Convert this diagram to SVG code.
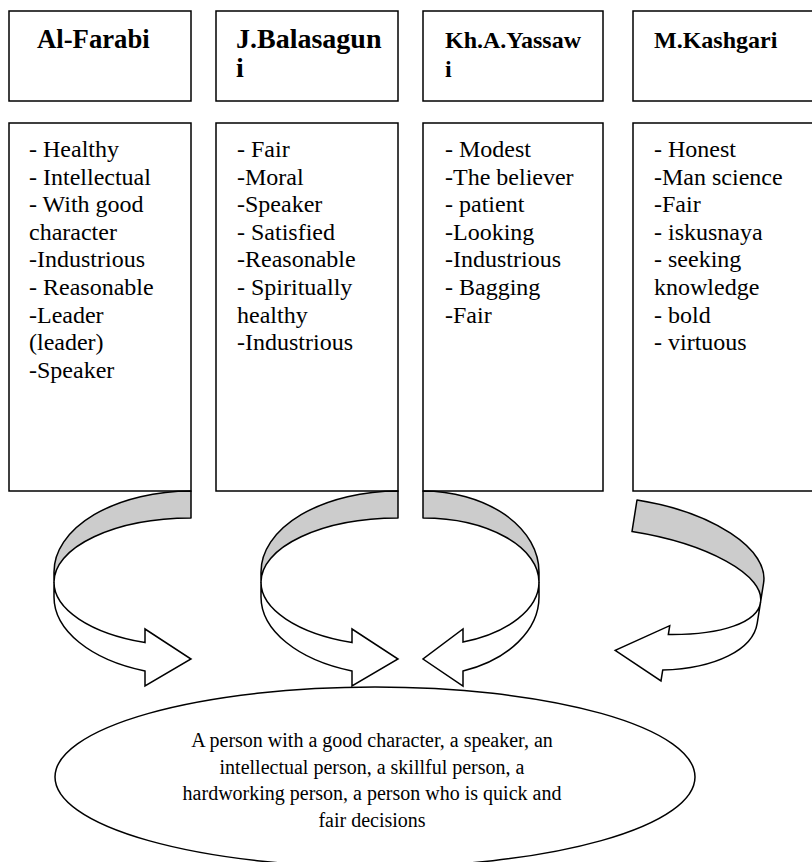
<svg xmlns="http://www.w3.org/2000/svg" width="812" height="862" viewBox="0 0 812 862">
<style>
.box{fill:#fff;stroke:#000;stroke-width:1.5}
.hd{font-family:"Liberation Serif","Times New Roman",serif;font-weight:bold;font-size:24px;fill:#000}
.hd2{font-size:26.7px}
.hd3{font-size:28px}
.ls{font-family:"Liberation Serif","Times New Roman",serif;font-size:24px;fill:#000}
.el{font-family:"Liberation Serif","Times New Roman",serif;font-size:20px;fill:#000;text-anchor:middle}
.back{fill:#cccccc;stroke:#000;stroke-width:1.5;stroke-linejoin:round}
.front{fill:#fff;stroke:#000;stroke-width:1.5;stroke-linejoin:miter}
</style>
<rect width="812" height="862" fill="#fff"/>

<g id="h1"><rect class="box" x="9" y="11" width="182" height="90"/><text class="hd hd2" x="37" y="48">Al-Farabi</text></g>
<g id="h2"><rect class="box" x="216" y="11" width="182" height="90"/><text class="hd hd3" x="236" y="48">J.Balasagun</text><text class="hd hd3" x="236" y="77">i</text></g>
<g id="h3"><rect class="box" x="423" y="11" width="180" height="90"/><text class="hd" x="445" y="48">Kh.A.Yassaw</text><text class="hd" x="445" y="77">i</text></g>
<g id="h4"><rect class="box" x="633" y="11" width="200" height="90"/><text class="hd" x="654" y="48">M.Kashgari</text></g>

<g id="l1"><rect class="box" x="9" y="123" width="182" height="368"/>
<text class="ls"><tspan x="29" y="157">- Healthy</tspan><tspan x="29" y="184.6">- Intellectual</tspan><tspan x="29" y="212.2">- With good</tspan><tspan x="29" y="239.8">character</tspan><tspan x="29" y="267.4">-Industrious</tspan><tspan x="29" y="295">- Reasonable</tspan><tspan x="29" y="322.6">-Leader</tspan><tspan x="29" y="350.2">(leader)</tspan><tspan x="29" y="377.8">-Speaker</tspan></text></g>
<g id="l2"><rect class="box" x="216" y="123" width="182" height="368"/>
<text class="ls"><tspan x="237" y="157">- Fair</tspan><tspan x="237" y="184.6">-Moral</tspan><tspan x="237" y="212.2">-Speaker</tspan><tspan x="237" y="239.8">- Satisfied</tspan><tspan x="237" y="267.4">-Reasonable</tspan><tspan x="237" y="295">- Spiritually</tspan><tspan x="237" y="322.6">healthy</tspan><tspan x="237" y="350.2">-Industrious</tspan></text></g>
<g id="l3"><rect class="box" x="423" y="123" width="180" height="368"/>
<text class="ls"><tspan x="445" y="157">- Modest</tspan><tspan x="445" y="184.6">-The believer</tspan><tspan x="445" y="212.2">- patient</tspan><tspan x="445" y="239.8">-Looking</tspan><tspan x="445" y="267.4">-Industrious</tspan><tspan x="445" y="295">- Bagging</tspan><tspan x="445" y="322.6">-Fair</tspan></text></g>
<g id="l4"><rect class="box" x="633" y="123" width="200" height="368"/>
<text class="ls"><tspan x="654" y="157">- Honest</tspan><tspan x="654" y="184.6">-Man science</tspan><tspan x="654" y="212.2">-Fair</tspan><tspan x="654" y="239.8">- iskusnaya</tspan><tspan x="654" y="267.4">- seeking</tspan><tspan x="654" y="295">knowledge</tspan><tspan x="654" y="322.6">- bold</tspan><tspan x="654" y="350.2">- virtuous</tspan></text></g>

<g id="connectors">
<g id="a1">
<path class="back" d="M191,491 A137,81 0 0 0 54,572 L54,582 A137,64 0 0 1 191,518 Z"/>
<path class="front" d="M54,582 A137,64 0 0 0 145,642.5 L145,629 L191,659 L145,686 L145,671 A137,78.6 0 0 1 54,597 Z"/>
</g>
<g id="a2" transform="translate(207,0)">
<path class="back" d="M191,491 A137,81 0 0 0 54,572 L54,582 A137,64 0 0 1 191,518 Z"/>
<path class="front" d="M54,582 A137,64 0 0 0 145,642.5 L145,629 L191,659 L145,686 L145,671 A137,78.6 0 0 1 54,597 Z"/>
</g>
<g id="a3">
<path class="back" d="M423,491 A116,81 0 0 1 539,572 L539,582 A116,64 0 0 0 423,518 Z"/>
<path class="front" d="M539,582 A116,64 0 0 1 463,642 L463,629 L423,659 L463,686 L463,671 A116,78.8 0 0 0 539,597 Z"/>
</g>
<g id="a4" transform="translate(637,500) rotate(9)">
<path class="back" d="M0,0 A138,62 0 0 1 138,62 L138,81.5 A138,49.5 0 0 0 0,32 Z"/>
<path class="front" d="M138,81.5 A138,49.5 0 0 1 52,128 L52,119 L2,152 L52,175 L52,164 A138,66 0 0 0 138,102.7 Z"/>
</g>
</g>

<g id="result">
<ellipse class="box" cx="375" cy="777" rx="320" ry="90"/>
<text class="el"><tspan x="372" y="747">A person with a good character, a speaker, an</tspan><tspan x="372" y="773.5">intellectual person, a skillful person, a</tspan><tspan x="372" y="800">hardworking person, a person who is quick and</tspan><tspan x="372" y="826.5">fair decisions</tspan></text>
</g>
</svg>
